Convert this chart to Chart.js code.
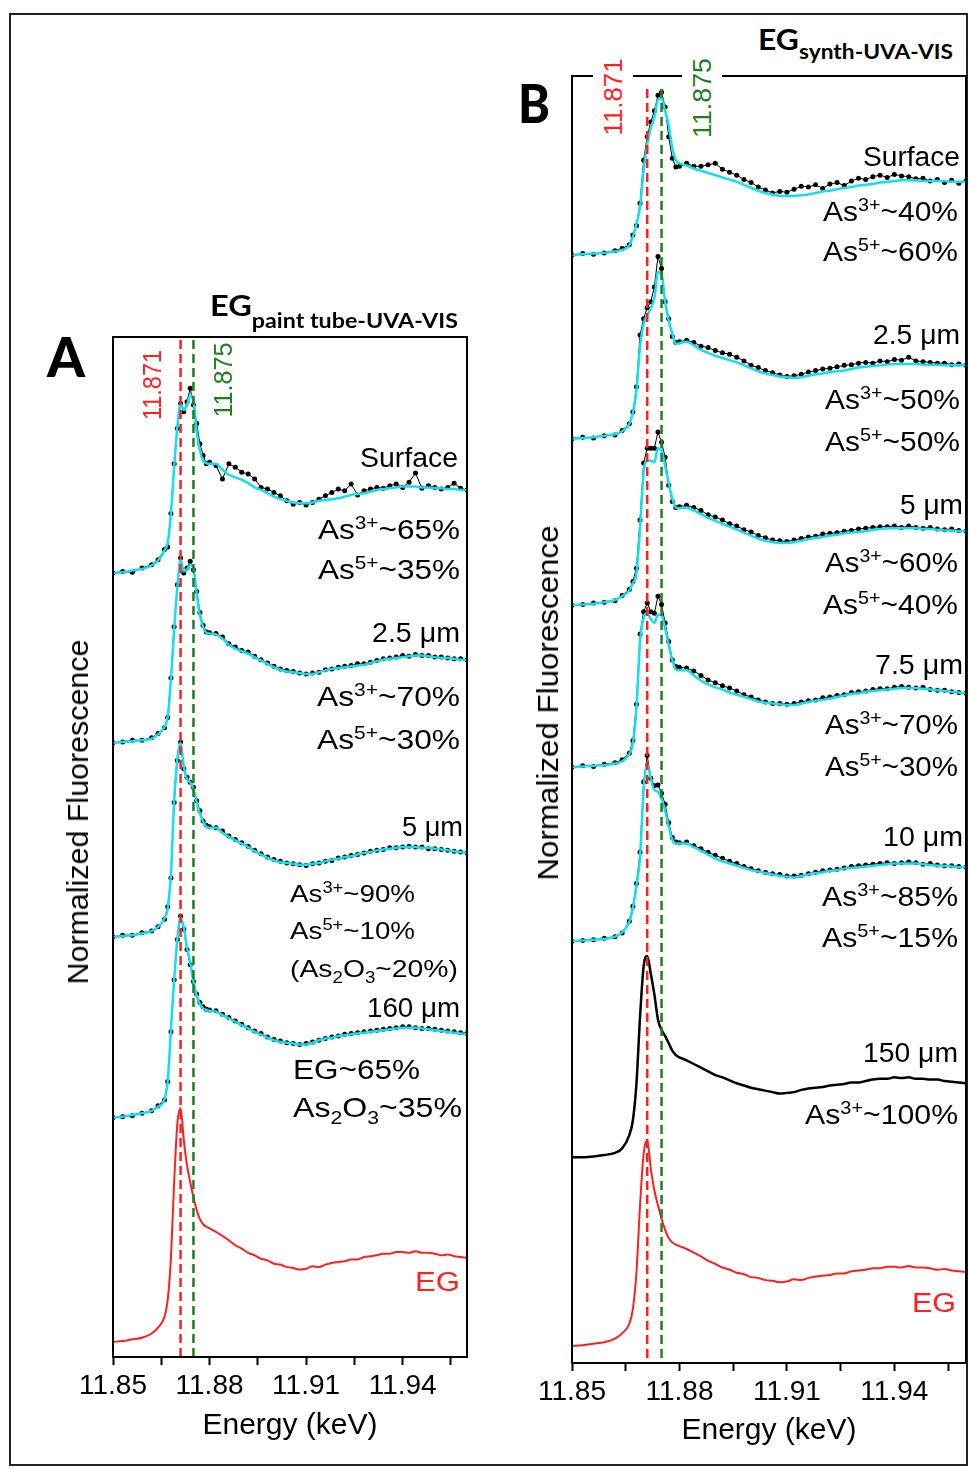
<!DOCTYPE html>
<html>
<head>
<meta charset="utf-8">
<script src="https://cdn.jsdelivr.net/npm/chart.js@4.4.1/dist/chart.umd.min.js"></script>
<style>
  html, body { margin: 0; padding: 0; background: #fff; }
  body { width: 970px; height: 1469px; position: relative; overflow: hidden; font-family: "Liberation Sans", Arial, sans-serif; }
  canvas { position: absolute; }
  .frame { position: absolute; left: 9px; top: 13px; width: 955px; height: 1449px; border: 2px solid #222; }
  .txt { position: absolute; left: 0; top: 0; white-space: nowrap; line-height: 1; color: #000; }
  .txt sup, .txt sub { font-size: 0.66em; line-height: 0; }
</style>
</head>
<body>
<div class="frame"></div>
<canvas id="chartA" width="404" height="1117" style="left:73px; top:327px"></canvas>
<canvas id="chartB" width="438" height="1383" style="left:532px; top:66px"></canvas>

<script>
// energy grid (keV), shared by every spectrum
const energy = [11.850,11.853,11.856,11.859,11.862,11.864,11.866,11.867,11.868,11.869,11.870,
    11.871,11.872,11.873,11.874,11.875,11.876,11.877,11.878,11.879,11.880,
    11.882,11.884,11.886,11.888,11.890,11.892,11.894,11.896,11.898,11.900,
    11.902,11.904,11.906,11.908,11.910,11.912,11.914,11.916,11.918,11.920,
    11.922,11.924,11.926,11.928,11.930,11.932,11.934,11.936,11.938,11.940,
    11.942,11.944,11.946,11.948,11.950,11.952,11.954,11.956,11.958,11.960]

const xTicks = [11.85, 11.865, 11.88, 11.895, 11.91, 11.925, 11.94, 11.955]
const xTickLabels = ['11.85', '', '11.88', '', '11.91', '', '11.94', '']
const lineEnergies = [11.871, 11.875]

// reference EG spectrum (normalized), used in both panels
const refEG = [0.00,0.01,0.03,0.05,0.10,0.17,0.30,0.50,1.00,1.90,2.60,
    2.78,2.40,2.10,1.90,1.72,1.57,1.46,1.40,1.37,1.35,
    1.31,1.26,1.21,1.15,1.11,1.06,1.03,0.99,0.97,0.93,
    0.92,0.89,0.88,0.86,0.87,0.90,0.89,0.92,0.94,0.95,
    0.96,0.98,0.98,1.01,1.02,1.03,1.05,1.05,1.07,1.07,
    1.06,1.08,1.06,1.06,1.05,1.03,1.04,1.02,1.01,1.00]

// ---- Panel A: paint tube, fits (cyan) and measured points (black)
const fitA_surface = [0.00,0.01,0.03,0.05,0.09,0.15,0.27,0.36,0.71,1.26,1.74,
    2.02,1.94,2.00,2.12,2.06,1.68,1.46,1.34,1.31,1.30,
    1.30,1.23,1.17,1.14,1.11,1.07,1.02,0.99,0.95,0.91,
    0.88,0.86,0.84,0.83,0.83,0.84,0.86,0.87,0.88,0.89,
    0.91,0.93,0.94,0.95,0.97,0.99,1.00,1.01,1.02,1.03,
    1.03,1.03,1.02,1.02,1.01,1.01,1.00,1.00,0.99,0.99]
const dataA_surface = [0.00,0.02,0.01,0.06,0.10,0.16,0.28,0.31,0.71,1.30,1.72,
    2.02,1.92,2.04,2.20,2.00,1.78,1.54,1.40,1.30,1.32,
    1.28,1.12,1.30,1.26,1.20,1.18,1.12,1.02,1.00,0.96,
    0.92,0.86,0.82,0.84,0.81,0.84,0.88,0.92,0.96,1.00,
    0.98,1.06,0.93,0.98,1.00,1.02,1.01,1.04,1.06,1.02,
    1.08,1.19,1.01,1.04,1.02,1.00,1.02,1.07,1.01,0.99]

const fitA_2_5 = [0.00,0.01,0.02,0.03,0.05,0.10,0.19,0.31,0.75,1.35,1.85,
    2.18,2.04,2.06,2.12,2.08,1.78,1.52,1.38,1.31,1.30,
    1.29,1.24,1.17,1.12,1.09,1.06,1.02,0.98,0.94,0.90,
    0.87,0.85,0.84,0.83,0.82,0.82,0.84,0.86,0.88,0.89,
    0.90,0.91,0.92,0.93,0.95,0.97,0.99,1.00,1.01,1.02,
    1.03,1.04,1.04,1.03,1.02,1.01,1.01,1.00,0.99,0.99]
const dataA_2_5 = [0.00,0.01,0.03,0.03,0.06,0.11,0.18,0.30,0.77,1.38,1.88,
    2.20,2.02,2.08,2.16,2.06,1.80,1.55,1.40,1.32,1.31,
    1.30,1.26,1.18,1.14,1.10,1.08,1.03,0.99,0.95,0.91,
    0.88,0.86,0.85,0.83,0.82,0.83,0.84,0.87,0.88,0.90,
    0.91,0.92,0.94,0.94,0.96,0.98,1.00,1.01,1.02,1.04,
    1.03,1.05,1.04,1.04,1.02,1.02,1.01,1.00,1.00,0.99]

const fitA_5 = [0.00,0.01,0.02,0.04,0.07,0.12,0.22,0.34,0.75,1.62,2.12,
    2.31,2.02,1.88,1.84,1.76,1.60,1.47,1.37,1.31,1.30,
    1.30,1.24,1.19,1.15,1.11,1.07,1.02,0.98,0.94,0.91,
    0.89,0.88,0.87,0.86,0.86,0.87,0.88,0.90,0.92,0.93,
    0.95,0.96,0.98,1.00,1.01,1.03,1.04,1.05,1.06,1.07,
    1.07,1.07,1.06,1.06,1.05,1.04,1.03,1.02,1.01,1.00]
const dataA_5 = [0.00,0.02,0.02,0.05,0.07,0.12,0.21,0.36,0.70,1.60,2.10,
    2.32,2.00,1.90,1.84,1.78,1.62,1.50,1.38,1.33,1.31,
    1.30,1.26,1.20,1.16,1.12,1.08,1.03,0.99,0.95,0.92,
    0.90,0.88,0.87,0.86,0.85,0.87,0.88,0.90,0.91,0.94,
    0.95,0.97,0.98,1.00,1.02,1.03,1.04,1.06,1.06,1.07,
    1.08,1.07,1.07,1.05,1.05,1.04,1.03,1.02,1.01,1.00]

const fitA_160 = [0.00,0.01,0.03,0.05,0.08,0.13,0.22,0.43,1.05,1.64,2.12,
    2.38,2.26,2.02,1.84,1.62,1.45,1.35,1.30,1.28,1.27,
    1.26,1.22,1.18,1.14,1.10,1.06,1.02,0.99,0.95,0.92,
    0.90,0.89,0.88,0.87,0.87,0.89,0.92,0.94,0.95,0.97,
    0.98,0.99,1.00,1.01,1.02,1.03,1.04,1.05,1.06,1.07,
    1.07,1.07,1.06,1.05,1.04,1.03,1.02,1.01,1.00,0.99]
const dataA_160 = [0.00,0.01,0.02,0.05,0.08,0.14,0.21,0.43,1.02,1.64,2.12,
    2.40,2.24,2.00,1.82,1.62,1.47,1.37,1.32,1.29,1.28,
    1.27,1.23,1.19,1.15,1.11,1.07,1.03,1.00,0.96,0.93,
    0.91,0.89,0.88,0.87,0.88,0.90,0.92,0.94,0.96,0.97,
    0.99,1.00,1.01,1.02,1.03,1.04,1.05,1.06,1.07,1.08,
    1.08,1.07,1.06,1.06,1.05,1.04,1.03,1.02,1.01,1.00]

const offsetsA = [9.33, 7.31, 5.00, 2.85, 0.18]

// ---- Panel B: synthesized paint
const fitB_surface = [0.00,0.01,0.02,0.03,0.05,0.07,0.13,0.25,0.42,0.65,1.15,
    1.50,1.72,1.86,2.10,2.12,1.95,1.75,1.45,1.28,1.24,
    1.21,1.17,1.14,1.11,1.08,1.05,1.02,0.99,0.95,0.91,
    0.87,0.84,0.82,0.80,0.80,0.80,0.81,0.82,0.84,0.86,
    0.87,0.89,0.91,0.92,0.94,0.95,0.96,0.98,0.99,1.00,
    1.01,1.01,1.01,1.00,1.00,1.00,1.00,0.99,0.99,0.99]
const dataB_surface = [0.00,0.02,0.01,0.03,0.06,0.09,0.14,0.27,0.40,0.70,1.28,
    1.60,1.80,1.95,2.16,2.20,2.00,1.60,1.31,1.19,1.20,
    1.24,1.20,1.20,1.22,1.24,1.16,1.12,1.08,1.02,0.98,
    0.92,0.88,0.84,0.86,0.85,0.89,0.93,0.92,0.95,0.90,
    0.96,0.98,0.94,1.00,1.04,1.02,1.06,1.08,1.05,1.09,
    1.07,1.06,1.03,1.04,1.00,1.02,0.98,1.01,0.97,1.00]

const fitB_2_5 = [0.00,0.01,0.02,0.04,0.06,0.10,0.20,0.35,0.65,1.25,1.55,
    1.67,1.76,1.90,2.25,2.22,1.85,1.60,1.42,1.28,1.29,
    1.31,1.26,1.20,1.16,1.12,1.09,1.06,1.03,0.99,0.95,
    0.91,0.88,0.86,0.84,0.83,0.82,0.83,0.85,0.87,0.88,
    0.90,0.91,0.92,0.94,0.96,0.97,0.98,0.99,1.00,1.01,
    1.01,1.01,1.01,1.00,1.00,1.00,0.99,0.99,0.99,0.99]
const dataB_2_5 = [0.00,0.02,0.01,0.04,0.05,0.11,0.20,0.36,0.70,1.40,1.62,
    1.77,1.85,2.05,2.46,2.30,1.85,1.62,1.38,1.30,1.31,
    1.33,1.30,1.25,1.23,1.19,1.16,1.14,1.10,1.05,0.99,
    0.96,0.92,0.89,0.86,0.84,0.85,0.87,0.90,0.92,0.94,
    0.95,0.97,0.99,1.00,1.02,1.03,1.02,1.05,1.04,1.07,
    1.06,1.10,1.05,1.04,1.03,1.02,1.02,1.00,1.01,0.99]

const fitB_5 = [0.00,0.01,0.02,0.04,0.07,0.12,0.20,0.30,0.43,1.05,1.80,
    1.95,1.95,1.93,2.12,2.10,1.88,1.65,1.44,1.32,1.31,
    1.32,1.28,1.23,1.18,1.14,1.10,1.06,1.02,0.98,0.94,
    0.90,0.87,0.85,0.84,0.84,0.85,0.87,0.89,0.91,0.92,
    0.94,0.95,0.97,0.98,0.99,1.00,1.02,1.03,1.04,1.04,
    1.04,1.04,1.04,1.03,1.03,1.02,1.01,1.01,1.00,1.00]
const dataB_5 = [0.00,0.01,0.03,0.04,0.06,0.13,0.21,0.32,0.50,1.15,1.92,
    2.12,2.12,2.12,2.34,2.20,2.00,1.62,1.40,1.32,1.33,
    1.35,1.32,1.28,1.22,1.19,1.15,1.10,1.07,1.02,0.99,
    0.94,0.91,0.88,0.87,0.86,0.88,0.90,0.92,0.93,0.96,
    0.97,0.98,1.00,1.01,1.03,1.04,1.05,1.06,1.06,1.07,
    1.05,1.07,1.05,1.04,1.05,1.03,1.02,1.03,1.01,1.00]

const fitB_7_5 = [0.00,0.01,0.02,0.03,0.05,0.08,0.18,0.32,0.80,1.70,2.02,
    2.08,2.00,1.95,2.06,2.05,1.88,1.65,1.45,1.32,1.31,
    1.31,1.24,1.17,1.12,1.08,1.05,1.01,0.98,0.95,0.92,
    0.89,0.87,0.86,0.85,0.84,0.84,0.86,0.88,0.90,0.91,
    0.93,0.95,0.97,0.99,1.00,1.02,1.03,1.04,1.05,1.06,
    1.07,1.07,1.07,1.06,1.05,1.04,1.03,1.02,1.01,1.00]
const dataB_7_5 = [0.00,0.02,0.01,0.04,0.06,0.10,0.19,0.36,0.85,1.80,2.10,
    2.22,2.10,2.08,2.31,2.20,1.95,1.70,1.45,1.36,1.35,
    1.34,1.30,1.24,1.18,1.14,1.10,1.07,1.03,0.98,0.95,
    0.91,0.88,0.86,0.86,0.85,0.86,0.88,0.90,0.91,0.94,
    0.95,0.97,0.98,1.01,1.02,1.03,1.05,1.06,1.06,1.08,
    1.09,1.08,1.07,1.08,1.05,1.04,1.04,1.02,1.01,1.00]

const fitB_10 = [0.00,0.01,0.02,0.03,0.06,0.12,0.26,0.45,0.75,1.14,2.05,
    2.40,2.20,2.04,2.02,1.92,1.76,1.55,1.37,1.32,1.32,
    1.32,1.27,1.22,1.17,1.12,1.08,1.05,1.02,0.99,0.96,
    0.94,0.92,0.90,0.88,0.87,0.86,0.88,0.90,0.92,0.93,
    0.95,0.96,0.98,0.99,1.00,1.01,1.02,1.03,1.04,1.05,
    1.05,1.05,1.05,1.04,1.03,1.02,1.02,1.01,1.00,1.00]
const dataB_10 = [0.00,0.01,0.02,0.04,0.06,0.11,0.27,0.47,0.78,1.20,2.15,
    2.51,2.20,2.10,2.11,2.00,1.85,1.60,1.40,1.34,1.33,
    1.34,1.29,1.25,1.20,1.16,1.12,1.08,1.05,1.01,0.98,
    0.95,0.93,0.91,0.90,0.88,0.88,0.89,0.91,0.93,0.95,
    0.96,0.97,0.99,1.01,1.02,1.03,1.04,1.05,1.06,1.05,
    1.06,1.07,1.06,1.04,1.05,1.03,1.02,1.02,1.01,1.00]

// 150 µm spectrum (black line, As3+ ~100%)
const refB_150 = [0.00,0.00,0.01,0.03,0.06,0.12,0.30,0.50,1.00,1.90,2.58,
    2.72,2.48,2.20,1.86,1.72,1.64,1.54,1.44,1.38,1.35,
    1.31,1.26,1.21,1.16,1.11,1.08,1.04,1.00,0.97,0.94,
    0.92,0.90,0.88,0.86,0.87,0.88,0.91,0.93,0.94,0.95,
    0.97,0.98,0.99,1.01,1.01,1.03,1.05,1.06,1.06,1.08,
    1.07,1.08,1.06,1.06,1.05,1.05,1.03,1.02,1.01,1.00]

const offsetsB = [14.97, 12.49, 10.24, 8.05, 5.70, 2.78, 0.23]

const CYAN = '#12e0ee'
const RED = '#ff1f1f'
const GREEN = '#1f7f1f'
const lineColors = [RED, GREEN]



const pts = (vals, off) => vals.map((v, i) => ({ x: energy[i], y: v + off }))

const measured = (vals, off) => ({
    data: pts(vals, off),
    borderColor: '#000',
    borderWidth: 1,
    pointRadius: 2.5,
    pointBackgroundColor: '#000',
    pointBorderWidth: 0,
    order: 1
})

const curve = (vals, off, color, width) => ({
    data: pts(vals, off),
    borderColor: color,
    borderWidth: width,
    pointRadius: 0,
    cubicInterpolationMode: 'monotone',
    order: 0
})



// dashed marker lines + box around the plot area
const panelDeco = {
    id: 'panelDeco',
    afterDatasetsDraw(chart, args, opts) {
        const { ctx, chartArea: a, scales: { x } } = chart
        ctx.save()
        ctx.lineWidth = 2.5
        ctx.setLineDash([9, 5])
        lineEnergies.forEach((e, i) => {
            const px = x.getPixelForValue(e)
            ctx.strokeStyle = lineColors[i]
            ctx.beginPath()
            ctx.moveTo(px, a.top + opts.dashTop)
            ctx.lineTo(px, a.bottom)
            ctx.stroke()
        })
        ctx.restore()
    },
    afterDraw(chart) {
        const { ctx, chartArea: a } = chart
        ctx.save()
        ctx.lineWidth = 2
        ctx.strokeStyle = '#000'
        ctx.strokeRect(a.left, a.top, a.right - a.left, a.bottom - a.top)
        ctx.restore()
    }
}



const makePanel = (id, datasets, yMax, dashTop, padRight, axisH) => {
    return new Chart(document.getElementById(id), {
        type: 'line',
        data: { datasets },
        plugins: [panelDeco],
        options: {
            responsive: false,
            animation: false,
            devicePixelRatio: 1,
            layout: { padding: { left: 40, right: padRight, top: 10, bottom: 0 } },
            plugins: {
                legend: { display: false },
                tooltip: { enabled: false },
                panelDeco: { dashTop }
            },
            scales: {
                x: {
                    type: 'linear',
                    min: 11.85,
                    max: 11.96,
                    afterBuildTicks: s => { s.ticks = xTicks.map(v => ({ value: v })) },
                    afterFit: s => { s.height = axisH },
                    ticks: {
                        callback: (v, i) => xTickLabels[i],
                        autoSkip: false,
                        maxRotation: 0,
                        padding: 4,
                        color: '#000',
                        font: { family: 'Liberation Sans', size: 28 }
                    },
                    grid: { drawOnChartArea: false, drawTicks: true, tickLength: 8, tickColor: '#000', tickWidth: 2 },
                    border: { display: true, color: '#000', width: 2 },
                    title: {
                        display: true,
                        text: 'Energy (keV)',
                        color: '#000',
                        padding: 0,
                        font: { family: 'Liberation Sans', size: 30 }
                    }
                },
                y: { display: false, min: 0, max: yMax }
            }
        }
    })
}



const setsA = [
    measured(dataA_surface, offsetsA[0]), curve(fitA_surface, offsetsA[0], CYAN, 2.5),
    measured(dataA_2_5, offsetsA[1]), curve(fitA_2_5, offsetsA[1], CYAN, 2.5),
    measured(dataA_5, offsetsA[2]), curve(fitA_5, offsetsA[2], CYAN, 2.5),
    measured(dataA_160, offsetsA[3]), curve(fitA_160, offsetsA[3], CYAN, 2.5),
    curve(refEG, offsetsA[4], RED, 2)
]

const setsB = [
    measured(dataB_surface, offsetsB[0]), curve(fitB_surface, offsetsB[0], CYAN, 2.5),
    measured(dataB_2_5, offsetsB[1]), curve(fitB_2_5, offsetsB[1], CYAN, 2.5),
    measured(dataB_5, offsetsB[2]), curve(fitB_5, offsetsB[2], CYAN, 2.5),
    measured(dataB_7_5, offsetsB[3]), curve(fitB_7_5, offsetsB[3], CYAN, 2.5),
    measured(dataB_10, offsetsB[4]), curve(fitB_10, offsetsB[4], CYAN, 2.5),
    curve(refB_150, offsetsB[5], '#000', 2.5),
    curve(refEG, offsetsB[6], RED, 2)
]

makePanel('chartA', setsA, 12.14, 3, 10, 87)
makePanel('chartB', setsB, 17.39, 13, 4, 86)



// ---- text overlays (real text, stretched to the reference widths)
const put = (html, x0, x1, base, size, extra = {}) => {
    const el = document.createElement('div')
    el.className = 'txt'
    el.innerHTML = html
    el.style.fontSize = size + 'px'
    if (extra.font) el.style.fontFamily = extra.font
    if (extra.weight) el.style.fontWeight = extra.weight
    if (extra.color) el.style.color = extra.color
    document.body.appendChild(el)
    const w = el.getBoundingClientRect().width
    el.style.left = x0 + 'px'
    el.style.top = (base - (extra.asc || 0.847) * size) + 'px'
    el.style.transformOrigin = '0 0'
    el.style.transform = `scaleX(${((x1 - x0) / w).toFixed(3)})`
}

const putV = (text, cx, cy, len, size, color, bg) => {
    const el = document.createElement('div')
    el.className = 'txt'
    el.textContent = text
    el.style.fontSize = size + 'px'
    el.style.color = color
    if (bg) {
        el.style.background = '#fff'
        el.style.lineHeight = '40px'
    }
    document.body.appendChild(el)
    const w = el.getBoundingClientRect().width
    el.style.left = cx + 'px'
    el.style.top = cy + 'px'
    el.style.transform = `translate(-50%, -50%) rotate(-90deg) scaleX(${(len / w).toFixed(3)})`
}

const s3 = 'As<sup>3+</sup>'
const s5 = 'As<sup>5+</sup>'
const ox = 'As<sub>2</sub>O<sub>3</sub>'

// panel A notes: html, left, right, baseline, size
const notesA = [
    ['Surface', 360, 458, 468, 27],
    [s3 + '~65%', 318, 460, 540, 27],
    [s5 + '~35%', 318, 460, 580, 27],
    ['2.5 μm', 372, 460, 643, 27],
    [s3 + '~70%', 317, 460, 707, 27],
    [s5 + '~30%', 317, 460, 750, 27],
    ['5 μm', 402, 463, 837, 27],
    [s3 + '~90%', 290, 415, 902, 24],
    [s5 + '~10%', 290, 415, 939, 24],
    ['(' + ox + '~20%)', 290, 458, 977, 24],
    ['160 μm', 367, 460, 1018, 27],
    ['EG~65%', 293, 420, 1080, 28],
    [ox + '~35%', 293, 462, 1118, 28]
]

const notesB = [
    ['Surface', 863, 960, 167, 27],
    [s3 + '~40%', 823, 958, 222, 27],
    [s5 + '~60%', 823, 958, 262, 27],
    ['2.5 μm', 873, 960, 345, 27],
    [s3 + '~50%', 825, 960, 410, 27],
    [s5 + '~50%', 825, 960, 452, 27],
    ['5 μm', 900, 963, 515, 27],
    [s3 + '~60%', 825, 958, 573, 27],
    [s5 + '~40%', 823, 958, 615, 27],
    ['7.5 μm', 875, 963, 675, 27],
    [s3 + '~70%', 825, 958, 735, 27],
    [s5 + '~30%', 825, 958, 777, 27],
    ['10 μm', 883, 963, 847, 27],
    [s3 + '~85%', 822, 958, 907, 27],
    [s5 + '~15%', 822, 958, 948, 27],
    ['150 μm', 863, 958, 1063, 27],
    [s3 + '~100%', 805, 958, 1125, 27]
]

notesA.concat(notesB).forEach(n => put(n[0], n[1], n[2], n[3], n[4]))

put('EG', 415, 460, 1292, 27, { color: RED })
put('EG', 912, 956, 1313, 27, { color: RED })

// panel titles and letters
const lato = { font: 'Lato, "Open Sans", sans-serif', weight: 700, asc: 0.887 }
put('EG<span style="font-size:20px;vertical-align:-12px;line-height:0">paint tube-UVA-VIS</span>', 210, 458, 316, 28, lato)
put('EG<span style="font-size:20px;vertical-align:-9px;line-height:0">synth-UVA-VIS</span>', 758, 953, 50, 28, lato)
put('A', 47, 85, 378, 56, { font: lato.font, weight: 900, asc: 0.887 })
put('B', 518, 550, 123, 53, { font: lato.font, weight: 900, asc: 0.887 })

// rotated texts
putV('Normalized Fluorescence', 78, 812, 345, 30, '#000')
putV('Normalized Fluorescence', 548, 703, 355, 30, '#000')
putV('11.871', 152, 385, 70, 26, RED)
putV('11.875', 223, 380, 75, 26, GREEN)
putV('11.871', 613, 97, 77, 26, RED, true)
putV('11.875', 702, 98, 80, 26, GREEN, true)
</script>
</body>
</html>
